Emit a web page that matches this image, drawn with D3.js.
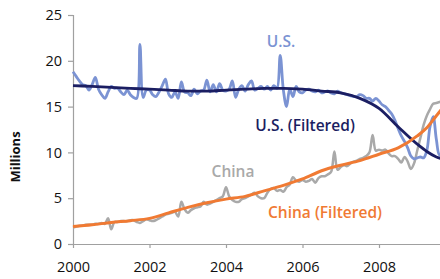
<!DOCTYPE html>
<html>
<head>
<meta charset="utf-8">
<script src="https://cdn.jsdelivr.net/npm/d3@7"></script>
<style>
  html, body { margin: 0; padding: 0; background: #fff; }
  svg { display: block; font-family: "Open Sans", "Noto Sans", sans-serif; }
</style>
</head>
<body>
<svg id="chart" width="440" height="279"></svg>
<script>
// monthly series, first value is Jan 2000
var startYear = 2000;

var usMonthly = [
	18.8, 18.3, 17.8, 17.4, 17.3, 16.8, 17.4, 18.2, 16.9, 16.3, 15.9, 16.6,
	17.2, 17.0, 17.0, 16.6, 16.3, 16.8, 16.3, 16.0, 15.9, 21.8, 16.0, 16.8,
	16.8, 16.3, 16.1, 16.6, 17.3, 18.0, 16.4, 16.0, 16.6, 15.9, 17.7, 16.6,
	16.5, 16.2, 16.9, 16.4, 16.7, 16.8, 17.9, 16.6, 17.4, 16.6, 17.5, 16.8,
	16.7, 16.9, 17.8, 16.0, 16.9, 17.3, 16.7, 17.4, 17.8, 16.8, 17.0, 17.2,
	16.9, 17.2, 16.8, 17.3, 17.0, 20.6, 16.8, 15.0, 16.9, 16.1, 17.2, 16.6,
	16.5, 16.8, 16.9, 16.7, 16.6, 16.8, 16.5, 16.6, 16.7, 16.5, 16.4, 16.7,
	16.5, 16.4, 16.3, 16.2, 16.1, 16.1, 16.3, 16.2, 15.9, 15.9, 15.6, 15.9,
	15.6, 15.2, 15.0, 14.6, 14.2, 13.5, 12.6, 11.8, 11.2, 10.5, 9.6, 9.3,
	9.4, 9.5, 9.4, 10.2, 12.8, 13.9, 11.4, 9.7, 9.8
];

var chinaMonthly = [
	1.8, 1.9, 2.0, 2.0, 2.1, 2.1, 2.1, 2.2, 2.2, 2.3, 2.2, 2.8,
	1.6, 2.4, 2.4, 2.5, 2.5, 2.5, 2.6, 2.6, 2.4, 2.3, 2.5, 2.7,
	2.6, 2.5, 2.6, 2.8, 3.0, 3.2, 3.3, 3.4, 3.5, 3.0, 4.6, 3.8,
	3.4, 3.7, 3.9, 4.0, 4.1, 4.6, 4.3, 4.4, 4.6, 4.8, 5.0, 5.2,
	6.2, 5.2, 4.8, 4.6, 4.6, 4.9, 5.0, 5.2, 5.4, 5.6, 5.2, 5.0,
	5.0, 5.6, 6.0, 6.1, 5.8, 5.9, 5.7, 6.2, 6.5, 7.3, 6.9, 6.8,
	7.0, 6.8, 6.9, 7.1, 6.7, 7.2, 7.4, 7.4, 7.6, 7.9, 10.1, 8.1,
	8.4, 8.6, 8.5, 8.8, 9.0, 9.1, 9.3, 9.4, 9.6, 10.0, 11.9, 10.2,
	10.3, 10.2, 10.3, 9.9, 9.6, 9.6, 9.3, 8.9, 9.5, 9.0, 8.2, 8.8,
	10.2, 11.6, 13.0, 14.0, 14.7, 15.3, 15.4, 15.5, 15.6
];

// filtered trends, read at half-year steps
var filteredYears = [2000, 2000.5, 2001, 2001.5, 2002, 2002.5, 2003, 2003.5, 2004, 2004.5,
	2005, 2005.5, 2006, 2006.5, 2007, 2007.5, 2008, 2008.5, 2009, 2009.25, 2009.5, 2009.75];
var usFiltered = [17.3, 17.2, 17.1, 17.0, 16.9, 16.8, 16.7, 16.7, 16.8, 16.9,
	17.0, 17.0, 16.9, 16.7, 16.5, 15.9, 14.8, 12.8, 10.9, 10.1, 9.5, 9.2];
var chinaFiltered = [1.9, 2.1, 2.35, 2.55, 2.8, 3.4, 4.0, 4.5, 4.9, 5.2,
	5.8, 6.4, 7.1, 8.0, 8.6, 9.1, 9.8, 10.5, 11.8, 12.7, 14.0, 15.3];

var xTicks = [2000, 2002, 2004, 2006, 2008];
var yTicks = [0, 5, 10, 15, 20, 25];

var svg = d3.select('#chart');

var x = d3.scaleLinear().domain([2000, 2010]).range([73, 455.5]);
var y = d3.scaleLinear().domain([0, 25]).range([244, 15]);

function monthly(values) {
	return values.map(function(v, i) { return { t: startYear + i / 12, v: v }; });
}
function filtered(values) {
	return values.map(function(v, i) { return { t: filteredYears[i], v: v }; });
}

var rawLine = d3.line()
	.x(function(d) { return x(d.t); })
	.y(function(d) { return y(d.v); })
	.curve(d3.curveCatmullRom.alpha(0.5));

var smoothLine = d3.line()
	.x(function(d) { return x(d.t); })
	.y(function(d) { return y(d.v); })
	.curve(d3.curveMonotoneX);

// axes
var yAxis = svg.append('g')
	.attr('transform', 'translate(' + x(2000) + ',0)')
	.call(d3.axisLeft(y).tickValues(yTicks).tickSize(5).tickPadding(6));

var xAxis = svg.append('g')
	.attr('transform', 'translate(0,' + y(0) + ')')
	.call(d3.axisBottom(x).tickValues(xTicks).tickFormat(d3.format('d')).tickSize(4).tickPadding(14));

[yAxis, xAxis].forEach(function(ax) {
	ax.select('.domain').attr('stroke', '#a0a0a0').attr('stroke-width', 1.2);
	ax.selectAll('.tick line').attr('stroke', '#a0a0a0').attr('stroke-width', 1.2);
	ax.selectAll('.tick text')
		.attr('fill', '#111')
		.style('font-size', '14.5px')
		.style('font-family', '"Open Sans", "Noto Sans", sans-serif');
});
xAxis.select('.domain').attr('d', 'M' + x(2000) + ',0.5H440');

svg.append('text')
	.attr('transform', 'translate(20,157) rotate(-90)')
	.attr('text-anchor', 'middle')
	.attr('fill', '#111')
	.style('font-size', '13px')
	.style('font-weight', 'bold')
	.text('Millions');

// series, back to front
svg.append('path')
	.datum(monthly(chinaMonthly))
	.attr('d', rawLine)
	.attr('fill', 'none')
	.attr('stroke', '#a9a9a9')
	.attr('stroke-width', 2.5)
	.attr('stroke-linejoin', 'round');

svg.append('path')
	.datum(monthly(usMonthly))
	.attr('d', rawLine)
	.attr('fill', 'none')
	.attr('stroke', '#7b93d3')
	.attr('stroke-width', 2.8)
	.attr('stroke-linejoin', 'round');

svg.append('path')
	.datum(filtered(usFiltered))
	.attr('d', smoothLine)
	.attr('fill', 'none')
	.attr('stroke', '#1b1e62')
	.attr('stroke-width', 2.8);

svg.append('path')
	.datum(filtered(chinaFiltered))
	.attr('d', smoothLine)
	.attr('fill', 'none')
	.attr('stroke', '#f07a33')
	.attr('stroke-width', 3);

// series labels
var labels = [
	{ text: 'U.S.', x: 281, y: 47, color: '#7b93d3' },
	{ text: 'U.S. (Filtered)', x: 305, y: 131, color: '#1b1e62' },
	{ text: 'China', x: 233, y: 177, color: '#a9a9a9' },
	{ text: 'China (Filtered)', x: 325, y: 218, color: '#f07a33' }
];

svg.selectAll('.series-label')
	.data(labels)
	.enter().append('text')
	.attr('class', 'series-label')
	.attr('x', function(d) { return d.x; })
	.attr('y', function(d) { return d.y; })
	.attr('text-anchor', 'middle')
	.attr('fill', function(d) { return d.color; })
	.style('font-size', '15.5px')
	.style('font-weight', 600)
	.text(function(d) { return d.text; });
</script>
</body>
</html>
